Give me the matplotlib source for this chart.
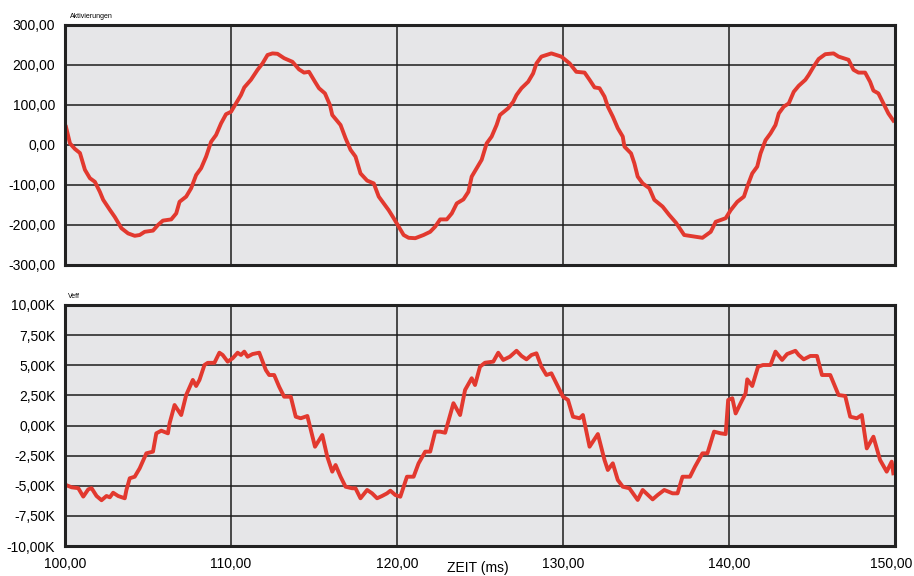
import matplotlib
matplotlib.use("Agg")
from matplotlib import pyplot as plt
from matplotlib.ticker import FuncFormatter
from matplotlib.transforms import ScaledTranslation

plt.rcParams['font.family'] = ['Liberation Sans', 'DejaVu Sans']

# Aktivierungen (oben)
akt_t = [100.06, 100.3, 100.6, 100.9, 101.2, 101.5, 101.8, 102.1, 102.3, 102.7,
         103.0, 103.4, 103.8, 104.2, 104.5, 104.8, 105.3, 105.6, 105.9, 106.4,
         106.7, 106.9, 107.3, 107.6, 107.9, 108.2, 108.5, 108.8, 109.1, 109.4,
         109.7, 110.0, 110.3, 110.6, 110.8, 111.2, 111.6, 111.9, 112.2, 112.5,
         112.8, 113.2, 113.7, 114.1, 114.4, 114.7, 115.06, 115.3, 115.66, 115.96,
         116.1, 116.6, 116.9, 117.2, 117.5, 117.8, 118.2, 118.6, 118.9, 119.2,
         119.5, 119.8, 120.1, 120.4, 120.7, 121.1, 121.6, 122.0, 122.3, 122.6,
         123.0, 123.3, 123.6, 124.0, 124.3, 124.5, 124.8, 125.1, 125.4, 125.7,
         126.0, 126.2, 126.7, 127.0, 127.2, 127.5, 127.9, 128.2, 128.4, 128.7,
         129.3, 129.9, 130.4, 130.8, 131.3, 131.6, 131.9, 132.2, 132.5, 132.7,
         133.0, 133.3, 133.6, 133.7, 134.1, 134.3, 134.5, 134.8, 135.2, 135.5,
         136.0, 136.4, 136.8, 137.3, 138.4, 138.9, 139.2, 139.8, 140.1, 140.5,
         140.9, 141.1, 141.4, 141.7, 141.9, 142.2, 142.5, 142.8, 143.0, 143.3,
         143.6, 143.9, 144.2, 144.6, 144.8, 145.1, 145.4, 145.8, 146.3, 146.6,
         147.2, 147.5, 147.8, 148.2, 148.5, 148.7, 149.0, 149.3, 149.6, 149.9]
akt_v = [45, 4, -10, -20, -62, -83, -92, -117, -137, -162,
         -180, -208, -221, -227, -225, -217, -214, -200, -189, -186,
         -171, -142, -129, -108, -75, -58, -29, 8, 25, 54,
         77, 83, 104, 125, 144, 163, 188, 204, 225, 229,
         228, 217, 208, 189, 181, 183, 158, 142, 129, 100,
         75, 50, 17, -12, -29, -71, -89, -96, -129, -146,
         -163, -183, -204, -225, -232, -233, -225, -217, -204, -186,
         -186, -171, -146, -136, -117, -79, -58, -37, 4, 21,
         50, 75, 92, 108, 125, 142, 158, 179, 204, 221,
         229, 221, 204, 183, 181, 163, 144, 142, 121, 96,
         71, 42, 21, -4, -21, -46, -79, -96, -108, -137,
         -154, -175, -194, -225, -232, -217, -192, -183, -163, -142,
         -129, -104, -71, -54, -21, 12, 29, 50, 79, 96,
         104, 133, 148, 163, 175, 196, 215, 227, 229, 221,
         213, 188, 181, 181, 158, 136, 129, 104, 79, 61]

# Veff (unten), in K
veff_t = [100.06, 100.4, 100.8, 101.1, 101.4, 101.6, 101.9, 102.2, 102.5, 102.7,
          102.9, 103.2, 103.6, 103.7, 103.9, 104.2, 104.5, 104.9, 105.3, 105.5,
          105.8, 106.2, 106.3, 106.6, 107.0, 107.3, 107.7, 107.9, 108.1, 108.4,
          108.6, 109.0, 109.3, 109.5, 109.8, 110.1, 110.4, 110.6, 110.8, 111.0,
          111.3, 111.7, 112.1, 112.3, 112.6, 112.9, 113.2, 113.6, 113.9, 114.2,
          114.6, 115.06, 115.5, 115.8, 116.1, 116.3, 116.6, 116.9, 117.3, 117.5,
          117.8, 118.2, 118.5, 118.8, 119.1, 119.4, 119.6, 119.9, 120.2, 120.6,
          121.0, 121.3, 121.7, 122.0, 122.3, 122.6, 122.9, 123.4, 123.8, 124.1,
          124.5, 124.7, 125.0, 125.3, 125.8, 126.1, 126.4, 126.8, 127.2, 127.5,
          127.8, 128.1, 128.4, 128.7, 129.0, 129.3, 129.6, 130.0, 130.3, 130.6,
          131.0, 131.2, 131.6, 132.1, 132.5, 132.7, 133.0, 133.3, 133.6, 134.0,
          134.5, 134.8, 135.4, 135.7, 136.1, 136.6, 136.9, 137.2, 137.65, 137.95,
          138.4, 138.7, 139.1, 139.5, 139.8, 139.95, 140.2, 140.4, 140.7, 141.0,
          141.1, 141.4, 141.75, 142.05, 142.5, 142.8, 143.2, 143.5, 144.0, 144.2,
          144.5, 144.9, 145.3, 145.6, 146.1, 146.6, 147.0, 147.3, 147.7, 148.0,
          148.3, 148.7, 149.1, 149.5, 149.8, 149.9]
veff_v = [-4.94, -5.13, -5.2, -5.9, -5.3, -5.2, -5.85, -6.2, -5.85, -5.96,
          -5.58, -5.85, -6.04, -5.35, -4.38, -4.25, -3.55, -2.31, -2.17, -0.65,
          -0.43, -0.65, 0.18, 1.7, 0.87, 2.53, 3.78, 3.28, 3.78, 5.02,
          5.2, 5.2, 6.04, 5.85, 5.3, 5.58, 6.04, 5.85, 6.13, 5.71,
          5.93, 6.04, 4.6, 4.19, 4.19, 3.22, 2.39, 2.39, 0.73, 0.6,
          0.79, -1.76, -0.79, -2.59, -3.83, -3.28, -4.25, -5.08, -5.21, -5.21,
          -6.04, -5.35, -5.63, -6.04, -5.85, -5.63, -5.41, -5.77, -5.91, -4.25,
          -4.25, -3.14, -2.17, -2.17, -0.51, -0.51, -0.6, 1.85, 0.87, 2.95,
          3.92, 3.36, 4.88, 5.21, 5.3, 6.04, 5.44, 5.71, 6.2, 5.77,
          5.49, 5.85, 5.99, 4.88, 4.19, 4.33, 3.5, 2.39, 2.12, 0.73,
          0.6, 0.87, -1.76, -0.71, -2.86, -3.69, -3.14, -4.52, -5.08, -5.21,
          -6.18, -5.35, -6.13, -5.77, -5.35, -5.63, -5.63, -4.25, -4.25, -3.42,
          -2.31, -2.31, -0.51, -0.65, -0.71, 2.12, 2.26, 1.0, 1.85, 2.67,
          3.83, 3.28, 4.88, 5.02, 5.02, 6.13, 5.44, 5.93, 6.2, 5.85,
          5.49, 5.77, 5.77, 4.19, 4.19, 2.53, 2.45, 0.73, 0.6, 0.87,
          -1.9, -0.93, -2.86, -3.83, -3.0, -3.97]

x_ticks = [100, 110, 120, 130, 140, 150]
akt_ticks = [-300, -200, -100, 0, 100, 200, 300]
veff_ticks = [-10, -7.5, -5, -2.5, 0, 2.5, 5, 7.5, 10]

red = '#e2392f'
bg = '#e6e6e8'

fig = plt.figure(figsize=(9.14, 5.76), dpi=100)
ax1 = fig.add_axes([65 / 914, 1 - 265 / 576, 830 / 914, 240 / 576])
ax2 = fig.add_axes([65 / 914, 1 - 546 / 576, 830 / 914, 241 / 576])

for ax in (ax1, ax2):
    ax.set_facecolor(bg)
    ax.set_xlim(100, 150)
    ax.set_xticks(x_ticks)
    ax.grid(True, color='#1c1c1c', linewidth=1.1)
    ax.set_axisbelow(True)
    for s in ax.spines.values():
        s.set_linewidth(2.2)
        s.set_color('#222222')
    ax.tick_params(length=0, labelsize=10, pad=7)

ax1.plot(akt_t, akt_v, color=red, linewidth=2.8, solid_joinstyle='round')
ax1.set_ylim(-300, 300)
ax1.set_yticks(akt_ticks)
ax1.yaxis.set_major_formatter(FuncFormatter(lambda v, p: ("%.2f" % v).replace('.', ',')))
ax1.tick_params(axis='x', labelbottom=False)
ax1.text(0.006, 1.02, "Aktivierungen", transform=ax1.transAxes, fontsize=5, va='bottom')

ax2.plot(veff_t, veff_v, color=red, linewidth=2.8, solid_joinstyle='round')
ax2.set_ylim(-10, 10)
ax2.set_yticks(veff_ticks)
ax2.yaxis.set_major_formatter(FuncFormatter(lambda v, p: ("%.2fK" % v).replace('.', ',')))
ax2.xaxis.set_major_formatter(FuncFormatter(lambda v, p: ("%.2f" % v).replace('.', ',')))
ax2.tick_params(axis='x', pad=8)
ax2.text(0.003, 1.02, "Veff", transform=ax2.transAxes, fontsize=5, va='bottom')

# letzte Beschriftung etwas nach links, damit sie nicht abgeschnitten wird
lbls = ax2.get_xticklabels()
lbls[-1].set_transform(lbls[-1].get_transform() + ScaledTranslation(-4 / 100, 0, fig.dpi_scale_trans))

fig.text(478 / 914, 0.002, "ZEIT (ms)", fontsize=10, ha='center', va='bottom')

plt.savefig("out.png", dpi=100)
